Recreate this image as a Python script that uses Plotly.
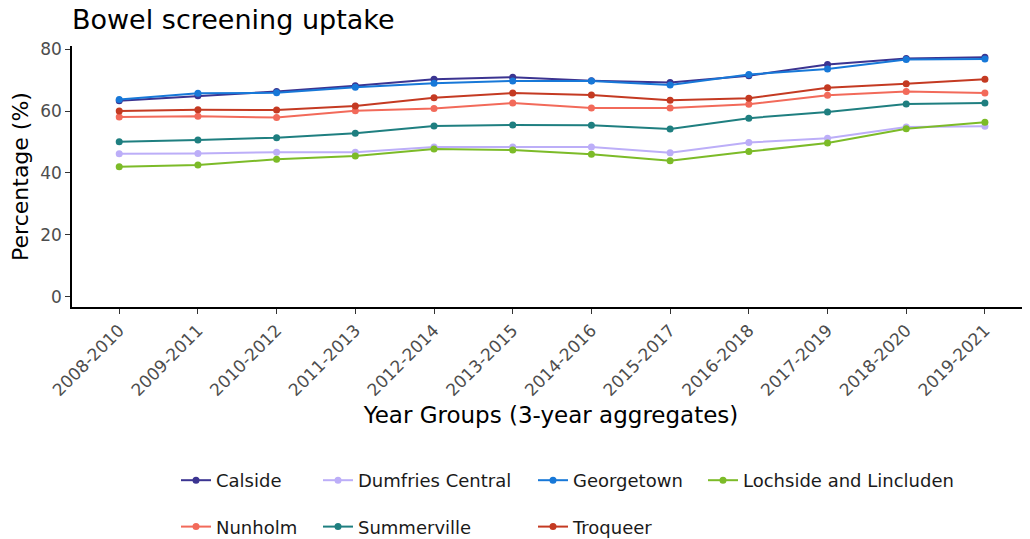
import plotly.graph_objects as go

years = ["2008-2010", "2009-2011", "2010-2012", "2011-2013", "2012-2014", "2013-2015",
         "2014-2016", "2015-2017", "2016-2018", "2017-2019", "2018-2020", "2019-2021"]

calside = [63.3, 64.9, 66.3, 68.2, 70.3, 70.9, 69.8, 69.2, 71.4, 75.0, 77.0, 77.4]
dumfries_central = [46.2, 46.3, 46.7, 46.7, 48.4, 48.4, 48.4, 46.5, 49.8, 51.2, 54.8, 55.1]
georgetown = [63.7, 65.7, 65.9, 67.7, 69.0, 69.7, 69.7, 68.4, 71.8, 73.6, 76.6, 76.8]
lochside = [42.0, 42.6, 44.4, 45.5, 47.7, 47.4, 46.0, 43.9, 46.9, 49.7, 54.3, 56.4]
nunholm = [58.1, 58.3, 57.9, 60.1, 60.8, 62.6, 61.0, 61.0, 62.2, 65.1, 66.3, 65.8]
summerville = [50.1, 50.6, 51.4, 52.8, 55.2, 55.5, 55.4, 54.2, 57.7, 59.7, 62.3, 62.6]
troqueer = [60.0, 60.4, 60.3, 61.6, 64.3, 65.8, 65.2, 63.5, 64.1, 67.5, 68.8, 70.3]

series = [
    ("Calside", calside, "#3B3491", "legend"),
    ("Dumfries Central", dumfries_central, "#BCAEF8", "legend2"),
    ("Georgetown", georgetown, "#1778D8", "legend3"),
    ("Lochside and Lincluden", lochside, "#7CBB28", "legend4"),
    ("Nunholm", nunholm, "#F26A5A", "legend"),
    ("Summerville", summerville, "#1F7F80", "legend2"),
    ("Troqueer", troqueer, "#C43A22", "legend3"),
]

x_idx = list(range(1, len(years) + 1))

fig = go.Figure()
for i, (name, vals, color, leg) in enumerate(series):
    fig.add_trace(go.Scatter(
        x=x_idx, y=vals, name=name, mode="lines+markers",
        line=dict(color=color, width=2),
        marker=dict(color=color, size=7),
        legend=leg, legendgroup=name,
    ))

FONT = "DejaVu Sans"
OFF = 8  # page body margin
W, H = 1030 - OFF, 539 - OFF
# window-pixel layout targets, converted to figure pixels
plot_left, plot_right = 72 - OFF, 1030 - OFF
plot_top, plot_bottom = 46 - OFF, 307 - OFF
ph = plot_bottom - plot_top
pw = plot_right - plot_left

def lx(px):
    return (px - OFF - plot_left) / pw

def ly(py):
    return (plot_bottom - (py - OFF)) / ph

leg_common = dict(
    orientation="v", xanchor="left", yanchor="top",
    font=dict(family=FONT, size=18, color="#1a1a1a"),
    bgcolor="rgba(0,0,0,0)", tracegroupgap=20, itemwidth=30,
)
col_x = [176, 318, 533, 703]
legend_y = ly(462)

fig.update_layout(
    width=W, height=H,
    margin=dict(l=plot_left, r=W - plot_right, t=plot_top, b=H - plot_bottom,
                autoexpand=False),
    plot_bgcolor="white", paper_bgcolor="white",
    font=dict(family=FONT),
    title=dict(text="Bowel screening uptake", x=(72 - OFF) / W, xanchor="left",
               y=1 - 2 / H, yanchor="top", automargin=False,
               font=dict(family=FONT, size=27, color="black")),
    xaxis=dict(
        tickmode="array", tickvals=x_idx, ticktext=years,
        range=[0.4, 0.4 + pw / 78.7], automargin=False,
        tickangle=-45, ticks="outside", ticklen=5, tickwidth=1.2, tickcolor="#333333",
        tickfont=dict(family=FONT, size=17, color="#4D4D4D"),
        showline=True, linecolor="black", linewidth=1.5,
        showgrid=False, zeroline=False,
        title=dict(text="Year Groups (3-year aggregates)",
                   font=dict(family=FONT, size=23, color="black"), standoff=8),
    ),
    yaxis=dict(
        range=[-3.3, 81.0], tickvals=[0, 20, 40, 60, 80], automargin=False,
        ticks="outside", ticklen=5, tickwidth=1.2, tickcolor="#333333",
        tickfont=dict(family=FONT, size=17, color="#4D4D4D"),
        showline=True, linecolor="black", linewidth=1.5,
        showgrid=False, zeroline=False,
        title=dict(text="Percentage (%)",
                   font=dict(family=FONT, size=22, color="black"), standoff=8),
    ),
    legend=dict(x=lx(col_x[0]), y=legend_y, **leg_common),
    legend2=dict(x=lx(col_x[1]), y=legend_y, **leg_common),
    legend3=dict(x=lx(col_x[2]), y=legend_y, **leg_common),
    legend4=dict(x=lx(col_x[3]), y=legend_y, **leg_common),
)

fig.write_html("out.html")
